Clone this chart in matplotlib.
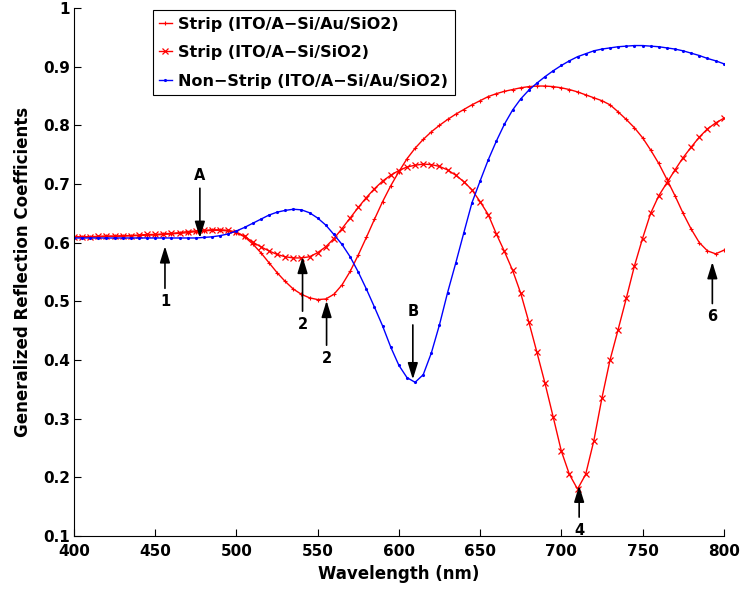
import numpy as np
import matplotlib
matplotlib.use('Agg')
import matplotlib.pyplot as plt

plt.rcParams['font.family'] = ['DejaVu Sans']
plt.rcParams['font.weight'] = 'bold'

# wavelength grid (nm)
wl = np.arange(400, 801, 5)

# Strip (ITO/A-Si/Au/SiO2)
strip_au = [
    0.610, 0.610, 0.610, 0.610, 0.611, 0.611, 0.611, 0.612, 0.612, 0.613,
    0.613, 0.614, 0.615, 0.616, 0.617, 0.619, 0.620, 0.621, 0.621, 0.620,
    0.617, 0.610, 0.598, 0.583, 0.566, 0.549, 0.534, 0.521, 0.512, 0.506,
    0.503, 0.504, 0.512, 0.528, 0.551, 0.579, 0.609, 0.640, 0.670, 0.697,
    0.721, 0.743, 0.761, 0.776, 0.789, 0.800, 0.810, 0.819, 0.827, 0.835,
    0.842, 0.849, 0.854, 0.858, 0.861, 0.864, 0.866, 0.867, 0.867, 0.866,
    0.864, 0.861, 0.857, 0.852, 0.847, 0.842, 0.835, 0.823, 0.810, 0.796,
    0.779, 0.758, 0.735, 0.708, 0.680, 0.650, 0.623, 0.600, 0.586, 0.581,
    0.587,
]

# Strip (ITO/A-Si/SiO2)
strip = [
    0.610, 0.610, 0.610, 0.611, 0.611, 0.611, 0.612, 0.612, 0.613, 0.614,
    0.614, 0.615, 0.616, 0.617, 0.619, 0.620, 0.621, 0.622, 0.622, 0.621,
    0.618, 0.611, 0.601, 0.593, 0.586, 0.580, 0.576, 0.574, 0.574, 0.576,
    0.583, 0.593, 0.607, 0.624, 0.642, 0.660, 0.677, 0.692, 0.705, 0.715,
    0.723, 0.729, 0.732, 0.734, 0.733, 0.730, 0.724, 0.715, 0.704, 0.690,
    0.670, 0.648, 0.615, 0.585, 0.553, 0.514, 0.465, 0.413, 0.360, 0.303,
    0.245, 0.205, 0.180, 0.205, 0.262, 0.335, 0.400, 0.452, 0.505, 0.560,
    0.607, 0.650, 0.680, 0.702, 0.724, 0.745, 0.763, 0.780, 0.794, 0.804,
    0.812,
]

# Non-Strip (ITO/A-Si/Au/SiO2)
nonstrip = [
    0.608, 0.608, 0.608, 0.608, 0.608, 0.608, 0.608, 0.608, 0.608, 0.608,
    0.608, 0.608, 0.608, 0.608, 0.608, 0.608, 0.609, 0.610, 0.612, 0.615,
    0.620, 0.626, 0.633, 0.640, 0.647, 0.652, 0.655, 0.657, 0.656, 0.651,
    0.642, 0.630, 0.614, 0.597, 0.576, 0.550, 0.521, 0.490, 0.458, 0.422,
    0.391, 0.370, 0.362, 0.375, 0.412, 0.460, 0.515, 0.565, 0.617, 0.668,
    0.705, 0.741, 0.773, 0.802, 0.826, 0.845, 0.860, 0.872, 0.883, 0.893,
    0.902, 0.910, 0.917, 0.922, 0.927, 0.930, 0.932, 0.934, 0.935, 0.936,
    0.936, 0.935, 0.934, 0.932, 0.930, 0.927, 0.923, 0.919, 0.914, 0.910,
    0.905,
]

labels = ['Strip (ITO/A\u2212Si/Au/SiO2)', 'Strip (ITO/A\u2212Si/SiO2)',
          'Non\u2212Strip (ITO/A\u2212Si/Au/SiO2)']

# annotations: text, text position, arrow tip
notes = [
    ('A', (477.5, 0.715), (477.5, 0.608)),
    ('1', (456, 0.500), (456, 0.594)),
    ('2', (540.7, 0.461), (540.7, 0.576)),
    ('2', (555.5, 0.403), (555.5, 0.501)),
    ('B', (608.6, 0.482), (608.6, 0.367)),
    ('4', (711, 0.110), (711, 0.186)),
    ('6', (793, 0.474), (793, 0.567)),
]

fig = plt.figure(figsize=(7.4, 5.93), dpi=100)
ax = fig.add_axes([0.1, 0.0961, 0.878, 0.8904])

ax.plot(wl, strip_au, 'r-', marker='+', ms=3, mew=0.8, lw=1, label=labels[0])
ax.plot(wl, strip, 'r-', marker='x', ms=4.5, mew=0.9, lw=1, label=labels[1])
ax.plot(wl, nonstrip, 'b-', marker='.', ms=2.5, lw=1, label=labels[2])

for txt, tpos, tip in notes:
    ax.annotate(txt, xy=tip, xytext=tpos, fontsize=10.5, fontweight='bold',
                ha='center', va='center',
                arrowprops=dict(arrowstyle='-|>,head_length=0.55,head_width=0.17',
                                color='k', lw=1.2, mutation_scale=18,
                                shrinkA=2, shrinkB=0))

ax.set_xlim(400, 800)
ax.set_ylim(0.1, 1)
ax.set_xticks(np.arange(400, 801, 50))
ax.set_yticks(np.arange(0.1, 1.01, 0.1))
ax.set_yticklabels(['0.1', '0.2', '0.3', '0.4', '0.5', '0.6', '0.7', '0.8', '0.9', '1'])
ax.tick_params(direction='in', labelsize=11, length=5, pad=3)
ax.tick_params(axis='x', pad=6)
for lab in ax.get_xticklabels() + ax.get_yticklabels():
    lab.set_fontweight('bold')
ax.spines['top'].set_visible(False)
ax.spines['right'].set_visible(False)

ax.set_xlabel('Wavelength (nm)', fontsize=12, fontweight='bold', labelpad=4)
ax.set_ylabel('Generalized Reflection Coefficients', fontsize=12, fontweight='bold', labelpad=8)

leg = ax.legend(loc='upper left', bbox_to_anchor=(0.121, 0.996), fancybox=False,
                edgecolor='k', fontsize=11.5, handlelength=0.8, handletextpad=0.4,
                borderpad=0.4, labelspacing=0.85, framealpha=1, borderaxespad=0)
leg.get_frame().set_linewidth(0.8)
for t in leg.get_texts():
    t.set_fontweight('bold')

fig.savefig('out.png', dpi=100)
